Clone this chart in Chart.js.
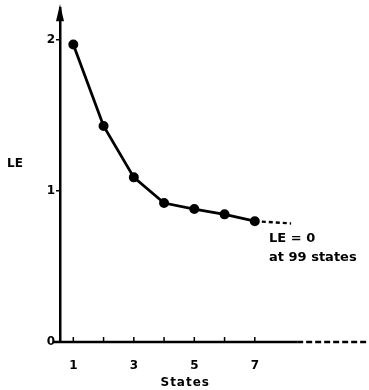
<!DOCTYPE html>
<html>
<head>
<meta charset="utf-8">
<script src="https://cdn.jsdelivr.net/npm/chart.js@4/dist/chart.umd.min.js"></script>
<style>
  body { margin: 0; background: #fff; }
  canvas { display: block; }
</style>
</head>
<body>
<canvas id="leChart" width="369" height="390"></canvas>
<script>
// values
const states = [1, 2, 3, 4, 5, 6, 7];
const leValues = [1.97, 1.43, 1.09, 0.92, 0.88, 0.845, 0.80];
// dashed continuation after the last state
const tailStates = [7, 8.2];
const tailValues = [0.80, 0.785];
const xTickLabels = [1, 3, 5, 7];
const yTickValues = [0, 1, 2];
const noteLines = ['LE = 0', 'at 99 states'];

const FONT = '"DejaVu Sans", sans-serif';

// axis line, little up ticks, arrow head and the loose texts
const decor = {
  id: 'decor',
  afterDraw(chart) {
    const ctx = chart.ctx;
    const x = chart.scales.x, y = chart.scales.y;
    const area = chart.chartArea;
    const y0 = y.getPixelForValue(0);
    const solidEnd = x.getPixelForValue(8.4);

    ctx.save();
    ctx.strokeStyle = '#000';
    ctx.fillStyle = '#000';
    ctx.lineWidth = 2.5;
    ctx.beginPath();
    ctx.moveTo(area.left - 6, y0);
    ctx.lineTo(solidEnd, y0);
    ctx.stroke();
    ctx.setLineDash([6, 3]);
    ctx.beginPath();
    ctx.moveTo(solidEnd, y0);
    ctx.lineTo(chart.width, y0);
    ctx.stroke();
    ctx.setLineDash([]);

    // ticks pointing up
    ctx.lineWidth = 1.5;
    states.forEach(s => {
      const px = x.getPixelForValue(s);
      ctx.beginPath();
      ctx.moveTo(px, y0);
      ctx.lineTo(px, y0 - 5);
      ctx.stroke();
    });

    // arrow on the y axis
    const ax = area.left;
    ctx.beginPath();
    ctx.moveTo(ax, area.top - 4);
    ctx.lineTo(ax - 4, area.top + 13);
    ctx.lineTo(ax + 4, area.top + 13);
    ctx.closePath();
    ctx.fill();

    ctx.font = 'bold 12px ' + FONT;
    ctx.textBaseline = 'alphabetic';
    ctx.textAlign = 'left';
    ctx.fillText('LE', 7, y.getPixelForValue(1.19) + 5);

    ctx.font = 'bold 13px ' + FONT;
    const nx = x.getPixelForValue(7.47);
    ctx.fillText(noteLines[0], nx, y.getPixelForValue(0.662));
    ctx.fillText(noteLines[1], nx, y.getPixelForValue(0.536));

    ctx.font = 'bold 12px ' + FONT;
    ctx.letterSpacing = '1px';
    ctx.textAlign = 'center';
    ctx.fillText('States', x.getPixelForValue(4.7), 386);
    ctx.restore();
  }
};

new Chart(document.getElementById('leChart'), {
  type: 'line',
  data: {
    datasets: [{
      data: states.map((s, i) => ({ x: s, y: leValues[i] })),
      borderColor: '#000',
      borderWidth: 2.8,
      pointRadius: 3.6,
      pointBackgroundColor: '#000',
      pointBorderColor: '#000',
      tension: 0
    }, {
      data: tailStates.map((s, i) => ({ x: s, y: tailValues[i] })),
      borderColor: '#000',
      borderWidth: 2.4,
      borderDash: [4, 3],
      pointRadius: 0,
      tension: 0
    }]
  },
  options: {
    responsive: false,
    animation: false,
    layout: { padding: { top: 8 } },
    plugins: { legend: { display: false }, tooltip: { enabled: false } },
    scales: {
      x: {
        type: 'linear',
        min: 0.56,
        max: 10.55,
        afterFit: s => { s.height = 48; },
        afterBuildTicks: s => { s.ticks = states.map(v => ({ value: v })); },
        grid: { display: false },
        border: { display: false },
        ticks: {
          autoSkip: false,
          maxRotation: 0,
          padding: 9,
          color: '#000',
          font: { family: FONT, size: 12, weight: 'bold' },
          callback: v => xTickLabels.includes(v) ? String(v) : ''
        }
      },
      y: {
        min: 0,
        max: 2.21,
        afterFit: s => { s.width = 60; },
        afterBuildTicks: s => { s.ticks = yTickValues.map(v => ({ value: v })); },
        grid: {
          drawOnChartArea: false,
          drawTicks: true,
          tickLength: 4,
          color: '#000',
          lineWidth: 1.5
        },
        border: { display: true, color: '#000', width: 2.5 },
        ticks: {
          padding: 1,
          color: '#000',
          font: { family: FONT, size: 12, weight: 'bold' }
        }
      }
    }
  },
  plugins: [decor]
});
</script>
</body>
</html>
